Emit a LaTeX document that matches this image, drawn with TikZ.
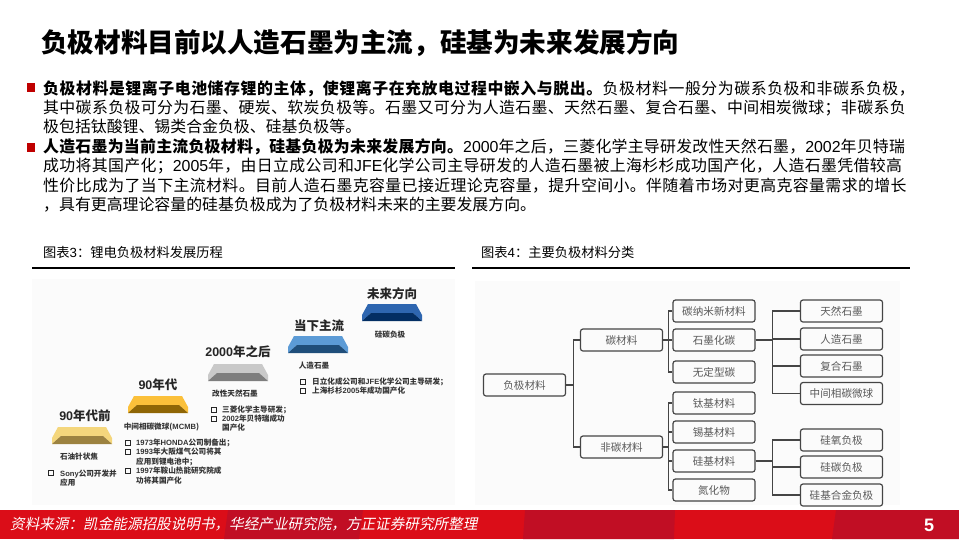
\documentclass[tikz,border=0pt]{standalone}
\usepackage{fontspec}
\setmainfont{Noto Sans CJK SC}
\newfontfamily\lat{Liberation Sans}
\newfontfamily\slantcjk[FakeSlant=0.2]{Noto Sans CJK SC}
\definecolor{brandred}{HTML}{DB0D18}
\definecolor{darkred}{HTML}{C10E24}
\definecolor{boxline}{HTML}{454545}
\definecolor{boxtext}{HTML}{5A5A5A}
\definecolor{goldlight}{HTML}{F4D67C}
\definecolor{golddark}{HTML}{9C8240}
\definecolor{amberlight}{HTML}{FBC03A}
\definecolor{amberdark}{HTML}{8F6606}
\definecolor{greylight}{HTML}{C9C9C9}
\definecolor{greydark}{HTML}{7E7E7E}
\definecolor{skylight}{HTML}{5C9BD6}
\definecolor{skydark}{HTML}{1F4E7A}
\definecolor{navylight}{HTML}{2E66B0}
\definecolor{navydark}{HTML}{032E63}
\tikzstyle{headline} = [anchor=base west, inner sep=0pt, font={\fontsize{26.6}{30}\selectfont\bfseries}]
\tikzstyle{bodyline} = [anchor=base west, inner sep=0pt, font={\fontsize{15.9}{19}\selectfont}]
\tikzstyle{figtitle} = [anchor=base west, inner sep=0pt, font={\fontsize{13.25}{15}\selectfont}]
\tikzstyle{era} = [inner sep=0pt, text=black!85, font={\fontsize{12.5}{15}\selectfont\bfseries}]
\tikzstyle{material} = [inner sep=0pt, text=black!80, font={\fontsize{7.6}{9}\selectfont\bfseries}]
\tikzstyle{note} = [anchor=west, inner sep=0pt, text=black!80, font={\fontsize{7.6}{9}\selectfont\bfseries}]
\tikzstyle{tick} = [draw=black!85, line width=1pt, minimum size=5pt, inner sep=0pt]
\tikzstyle{treebox} = [draw=boxline, line width=1.2pt, rounded corners=2.5pt, minimum width=82pt, minimum height=22pt, inner sep=0pt, text=boxtext, font={\fontsize{10.6}{13}\selectfont}]
\tikzstyle{link} = [draw=boxline, line width=1.2pt]
\newcommand{\ingot}[4]{%
  \fill[#3] (#1+6,#2) -- (#1+54,#2) -- (#1+60,#2+11) -- (#1+60,#2+17) -- (#1+51,#2+9) -- (#1+9,#2+9) -- (#1,#2+17) -- (#1,#2+11) -- cycle;
  \fill[#4] (#1+9,#2+9) -- (#1+51,#2+9) -- (#1+60,#2+17) -- (#1,#2+17) -- cycle;
}
% spread one text line to the page width
\newcommand{\spread}[1]{\fontsize{15.9}{19}\selectfont\addfontfeature{LetterSpace=#1}}

\begin{document}
\begin{tikzpicture}[x=1pt,y=-1pt]
        \useasboundingbox (0,0) rectangle (959,539);
        \fill[white] (0,0) rectangle (959,539);
        % heading and text
        \node[headline](title) at (41,52){负极材料目前以人造石墨为主流，硅基为未来发展方向};
        \fill[red!75!black] (27,83) rectangle (35,92);
        \fill[red!75!black] (27,143) rectangle (35,152);
        \node[bodyline,font={\spread{3.5}}](line1) at (43,94){\textbf{负极材料是锂离子电池储存锂的主体，使锂离子在充放电过程中嵌入与脱出。}负极材料一般分为碳系负极和非碳系负极，};
        \node[bodyline,font={\spread{2.4}}](line2) at (43,113){其中碳系负极可分为石墨、硬炭、软炭负极等。石墨又可分为人造石墨、天然石墨、复合石墨、中间相炭微球；非碳系负};
        \node[bodyline](line3) at (43,132){极包括钛酸锂、锡类合金负极、硅基负极等。};
        \node[bodyline,font={\spread{1.6}}](line4) at (43,152){\textbf{人造石墨为当前主流负极材料，硅基负极为未来发展方向。}{\lat 2000}年之后，三菱化学主导研发改性天然石墨，{\lat 2002}年贝特瑞};
        \node[bodyline,font={\spread{2.2}}](line5) at (43,171){成功将其国产化；{\lat 2005}年，由日立成公司和{\lat JFE}化学公司主导研发的人造石墨被上海杉杉成功国产化，人造石墨凭借较高};
        \node[bodyline,font={\spread{2.5}}](line6) at (43,191){性价比成为了当下主流材料。目前人造石墨克容量已接近理论克容量，提升空间小。伴随着市场对更高克容量需求的增长};
        \node[bodyline](line7) at (43,210){，具有更高理论容量的硅基负极成为了负极材料未来的主要发展方向。};
        % figure headings
        \node[figtitle](fig3) at (43,257){图表{\lat 3}：锂电负极材料发展历程};
        \node[figtitle](fig4) at (481,257){图表{\lat 4}：主要负极材料分类};
        \fill[black] (32,267) rectangle (455,269);
        \fill[black] (472,267) rectangle (910,269);
        \fill[black!1.5] (32,279) rectangle (455,505);
        \fill[black!1.5] (475,281) rectangle (900,505);
        % history steps
        \ingot{52}{427}{goldlight}{golddark}
        \ingot{128}{396}{amberlight}{amberdark}
        \ingot{208}{364}{greylight}{greydark}
        \ingot{288}{336}{skylight}{skydark}
        \ingot{362}{304}{navylight}{navydark}
        \node[era](era1) at (85,416){{\lat\bfseries 90}年代前};
        \node[material](mat1) at (79,457){石油针状焦};
        \node[tick](tick1) at (51,473){};
        \node[note](note1a) at (60,473.5){{\lat Sony}公司开发并};
        \node[note](note1b) at (60,483){应用};
        \node[era](era2) at (158,385){{\lat\bfseries 90}年代};
        \node[material](mat2) at (161.5,427){中间相碳微球({\lat MCMB})};
        \node[tick](tick2a) at (127.5,443){};
        \node[tick](tick2b) at (127.5,452){};
        \node[tick](tick2c) at (127.5,471){};
        \node[note](note2a) at (136,443){{\lat 1973}年{\lat HONDA}公司制备出；};
        \node[note](note2b) at (136,452){{\lat 1993}年大阪煤气公司将其};
        \node[note](note2c) at (136,462){应用到锂电池中；};
        \node[note](note2d) at (136,471){{\lat 1997}年鞍山热能研究院成};
        \node[note](note2e) at (136,480.5){功将其国产化};
        \node[era](era3) at (238,352){{\lat\bfseries 2000}年之后};
        \node[material](mat3) at (235,394){改性天然石墨};
        \node[tick](tick3a) at (213.5,409.5){};
        \node[tick](tick3b) at (213.5,419){};
        \node[note](note3a) at (222,409.5){三菱化学主导研发；};
        \node[note](note3b) at (222,419){{\lat 2002}年贝特瑞成功};
        \node[note](note3c) at (222,428){国产化};
        \node[era](era4) at (319,326){当下主流};
        \node[material](mat4) at (314,366){人造石墨};
        \node[tick](tick4a) at (302.5,382){};
        \node[tick](tick4b) at (302.5,391){};
        \node[note](note4a) at (312,382){日立化成公司和{\lat JFE}化学公司主导研发；};
        \node[note](note4b) at (312,391){上海杉杉{\lat 2005}年成功国产化};
        \node[era](era5) at (392,294){未来方向};
        \node[material](mat5) at (390,335){硅碳负极};
        % material tree
        \node[treebox](root) at (524.5,385){负极材料};
        \node[treebox](carbon) at (621.5,340){碳材料};
        \node[treebox](noncarbon) at (621.5,447){非碳材料};
        \node[treebox](nano) at (714,311){碳纳米新材料};
        \node[treebox](graphitized) at (714,340){石墨化碳};
        \node[treebox](amorphous) at (714,372){无定型碳};
        \node[treebox](titanium) at (714,403){钛基材料};
        \node[treebox](tin) at (714,432){锡基材料};
        \node[treebox](silicon) at (714,461){硅基材料};
        \node[treebox](nitride) at (714,490){氮化物};
        \node[treebox](natural) at (841.5,311){天然石墨};
        \node[treebox](artificial) at (841.5,339){人造石墨};
        \node[treebox](composite) at (841.5,366){复合石墨};
        \node[treebox](mesophase) at (841.5,393.5){中间相碳微球};
        \node[treebox](sio) at (841.5,440){硅氧负极};
        \node[treebox](sic) at (841.5,467){硅碳负极};
        \node[treebox](sialloy) at (841.5,495){硅基合金负极};
        \draw[link](root.east)-- ++(7,0) |- (carbon.west);
        \draw[link](root.east)-- ++(7,0) |- (noncarbon.west);
        \draw[link](carbon.east)-- ++(5,0) |- (nano.west);
        \draw[link](carbon.east)--(graphitized.west);
        \draw[link](carbon.east)-- ++(5,0) |- (amorphous.west);
        \draw[link](noncarbon.east)-- ++(5,0) |- (titanium.west);
        \draw[link](noncarbon.east)-- ++(5,0) |- (tin.west);
        \draw[link](noncarbon.east)-- ++(5,0) |- (silicon.west);
        \draw[link](noncarbon.east)-- ++(5,0) |- (nitride.west);
        \draw[link](graphitized.east)-- ++(17,0) |- (natural.west);
        \draw[link](graphitized.east)-- ++(17,0) |- (artificial.west);
        \draw[link](graphitized.east)-- ++(17,0) |- (composite.west);
        \draw[link](graphitized.east)-- ++(17,0) |- (mesophase.west);
        \draw[link](silicon.east)-- ++(17,0) |- (sio.west);
        \draw[link](silicon.east)-- ++(17,0) |- (sic.west);
        \draw[link](silicon.east)-- ++(17,0) |- (sialloy.west);
        % footer
        \fill[brandred] (0,510) rectangle (959,539);
        \fill[darkred] (228,510) -- (363,510) -- (359,539) -- (224,539) -- cycle;
        \fill[darkred] (525,510) -- (675,510) -- (674,539) -- (523,539) -- cycle;
        \fill[darkred] (836,510) -- (959,510) -- (959,539) -- (832,539) -- cycle;
        \node[anchor=base west,inner sep=0pt,text=white,font={\fontsize{14.6}{18}\slantcjk}](source) at (10,529){资料来源：凯金能源招股说明书，华经产业研究院，方正证券研究所整理};
        \node[anchor=base,inner sep=0pt,text=white,font={\fontsize{18}{20}\selectfont\lat\bfseries}](page) at (929,531.5){5};
      \end{tikzpicture}
\end{document}
